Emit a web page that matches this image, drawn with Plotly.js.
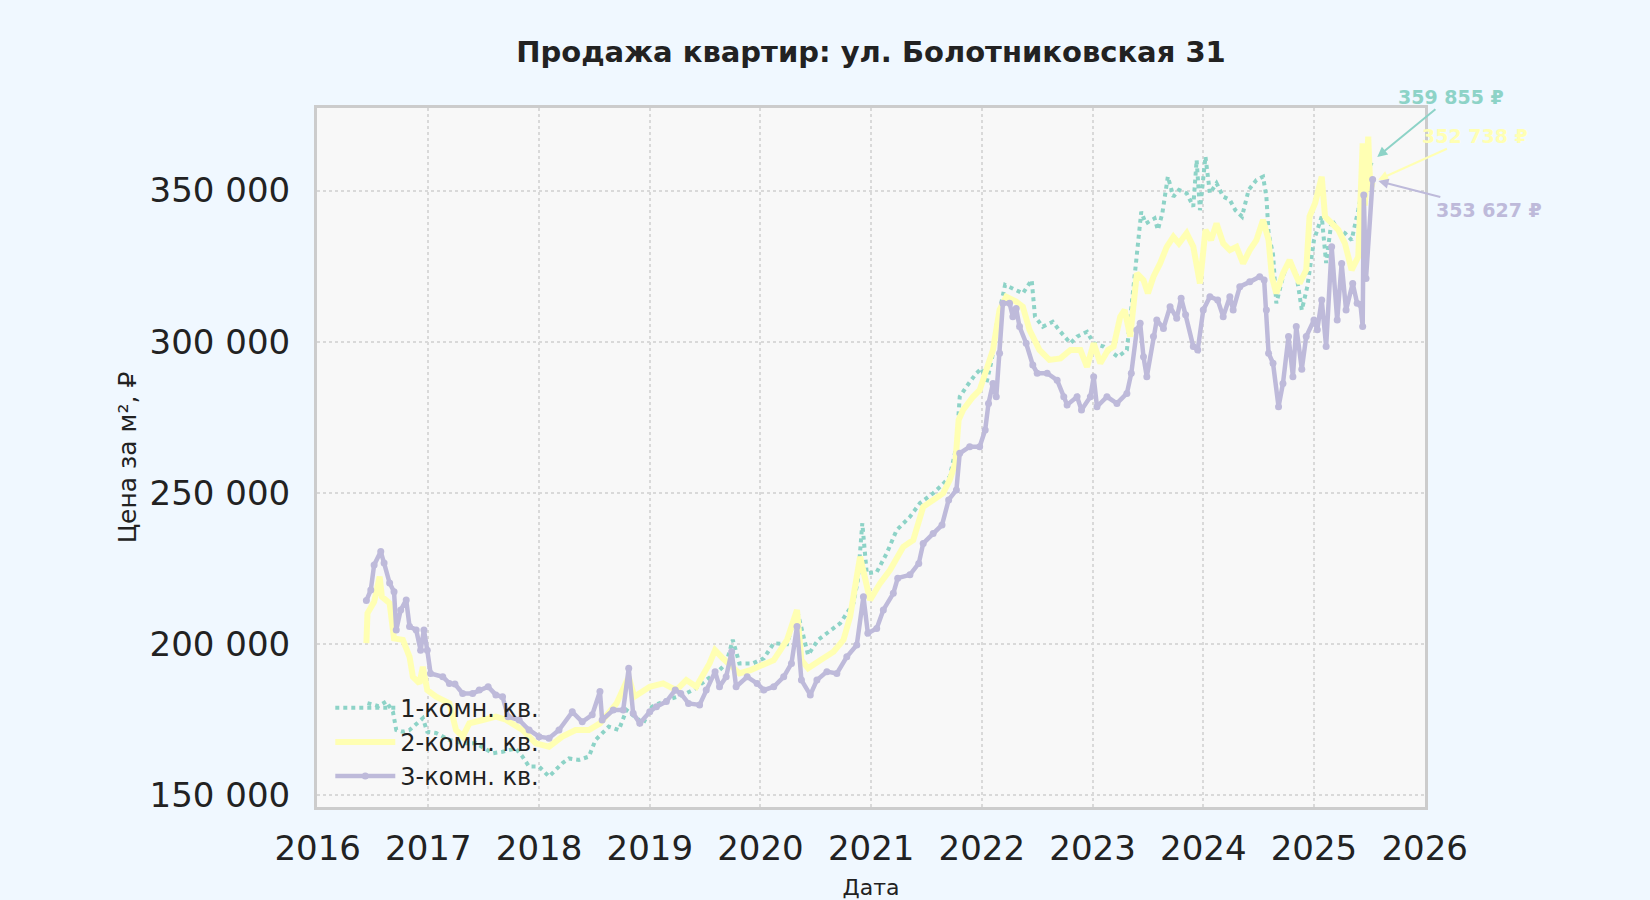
<!DOCTYPE html>
<html>
<head>
<meta charset="utf-8">
<script src="https://cdn.plot.ly/plotly-3.0.1.min.js"></script>
<style>
html,body{margin:0;padding:0;background:#f0f8ff;}
#chart{width:1650px;height:900px;}
</style>
</head>
<body>
<div id="chart"></div>
<script>
// ---- data (decimal years, price per m²) ----
const seriesNames = ["1-комн. кв.", "2-комн. кв.", "3-комн. кв."];

const dates1 = [2016.45,2016.55,2016.62,2016.68,2016.71,2016.77,2016.83,2016.95,2016.99,2017.07,2017.19,2017.31,2017.43,2017.58,2017.67,2017.79,2017.85,2017.91,2018.00,2018.09,2018.21,2018.27,2018.36,2018.45,2018.51,2018.63,2018.72,2018.79,2018.94,2019.02,2019.15,2019.30,2019.39,2019.51,2019.63,2019.69,2019.75,2019.81,2019.93,2020.03,2020.12,2020.24,2020.33,2020.43,2020.52,2020.60,2020.72,2020.84,2020.88,2020.92,2020.96,2021.05,2021.14,2021.23,2021.35,2021.44,2021.56,2021.64,2021.71,2021.77,2021.80,2021.86,2021.95,2022.00,2022.04,2022.09,2022.13,2022.21,2022.28,2022.37,2022.45,2022.48,2022.55,2022.64,2022.71,2022.80,2022.86,2022.95,2023.01,2023.10,2023.23,2023.31,2023.37,2023.41,2023.44,2023.48,2023.56,2023.59,2023.63,2023.68,2023.73,2023.78,2023.85,2023.91,2023.94,2023.97,2024.02,2024.06,2024.12,2024.18,2024.24,2024.29,2024.35,2024.41,2024.48,2024.54,2024.57,2024.59,2024.63,2024.66,2024.72,2024.77,2024.84,2024.89,2024.94,2025.00,2025.07,2025.11,2025.16,2025.22,2025.28,2025.34,2025.40,2025.46,2025.53];
const price1 = [180500,179500,181000,177600,171600,171000,171600,175500,171000,170600,168300,167200,167200,163900,164400,165500,162800,159500,159500,156200,160600,162200,161700,162800,168300,172700,171600,178200,173800,179300,181500,183200,184800,188100,191400,193600,201400,193600,193600,195300,200300,200000,211300,196400,201400,203600,206900,213500,221200,240000,223400,223800,230000,237700,242100,246600,249900,252600,255400,265300,281800,285100,289600,291200,286200,294000,305000,318800,317700,316000,320400,308300,305000,306600,303300,299500,301700,303300,299500,298400,295000,297300,318200,333600,343000,339100,340800,337000,342400,354600,348000,350200,349100,344700,360100,343500,361200,349100,352400,348000,346900,343500,341400,350200,353500,354600,348000,335900,328900,312700,321500,327000,322600,310500,318200,333600,341400,326000,340300,337000,335900,333600,343500,355000,359855];

const dates2 = [2016.44,2016.45,2016.51,2016.56,2016.58,2016.65,2016.69,2016.77,2016.83,2016.86,2016.92,2016.95,2016.99,2017.07,2017.19,2017.25,2017.31,2017.37,2017.49,2017.61,2017.70,2017.85,2017.97,2018.09,2018.21,2018.33,2018.45,2018.55,2018.70,2018.81,2018.86,2019.00,2019.12,2019.24,2019.33,2019.42,2019.54,2019.59,2019.66,2019.74,2019.81,2019.91,2019.99,2020.12,2020.24,2020.33,2020.37,2020.43,2020.54,2020.66,2020.75,2020.81,2020.90,2020.99,2021.08,2021.17,2021.29,2021.38,2021.47,2021.56,2021.65,2021.71,2021.76,2021.79,2021.83,2021.92,2021.98,2022.04,2022.10,2022.16,2022.22,2022.31,2022.37,2022.43,2022.52,2022.61,2022.71,2022.80,2022.89,2022.95,2023.01,2023.07,2023.14,2023.19,2023.25,2023.29,2023.34,2023.40,2023.46,2023.50,2023.55,2023.61,2023.67,2023.73,2023.78,2023.85,2023.91,2023.97,2024.02,2024.07,2024.12,2024.18,2024.24,2024.30,2024.36,2024.42,2024.48,2024.54,2024.59,2024.62,2024.66,2024.72,2024.78,2024.83,2024.87,2024.93,2024.96,2025.01,2025.07,2025.10,2025.16,2025.22,2025.28,2025.34,2025.40,2025.44,2025.46,2025.49,2025.51,2025.53];
const price2 = [200300,210200,214000,222300,215700,213500,201900,201400,195800,189200,187000,192500,184800,182600,180400,171600,169400,173800,174900,176000,175000,171600,167200,166100,169400,171600,171600,173800,180400,189200,182600,185900,187000,184800,188100,185900,193600,198000,195300,192500,190300,191400,192500,194700,201400,211300,194700,192000,194700,197500,201400,209100,228900,214600,220100,224500,232200,234400,245400,247700,249900,254300,259800,274100,277400,281800,284000,290600,297300,310500,314900,313300,311600,303900,297300,294000,294500,297300,297300,291700,299500,292900,297300,298400,308300,310500,301700,322600,320400,316000,321500,325900,331400,334700,332500,335900,331400,319300,337000,333600,339100,332500,330300,331400,325900,330300,333600,340300,333600,321500,316000,322600,327000,322600,319300,323700,341400,345800,354600,341400,339100,337000,332500,323700,328100,365600,345000,367800,350000,352738];

const dates3 = [2016.44,2016.48,2016.51,2016.57,2016.60,2016.65,2016.69,2016.71,2016.75,2016.80,2016.83,2016.89,2016.93,2016.96,2016.99,2017.02,2017.13,2017.19,2017.24,2017.31,2017.40,2017.46,2017.54,2017.61,2017.67,2017.72,2017.82,2017.91,2018.00,2018.09,2018.18,2018.30,2018.39,2018.48,2018.55,2018.57,2018.67,2018.76,2018.81,2018.85,2018.91,2019.00,2019.06,2019.15,2019.23,2019.28,2019.35,2019.45,2019.51,2019.59,2019.63,2019.69,2019.74,2019.78,2019.88,2019.97,2020.03,2020.12,2020.21,2020.28,2020.33,2020.37,2020.45,2020.51,2020.60,2020.69,2020.78,2020.87,2020.93,2020.97,2021.05,2021.11,2021.20,2021.24,2021.35,2021.43,2021.47,2021.56,2021.64,2021.70,2021.77,2021.80,2021.89,2021.98,2022.03,2022.06,2022.10,2022.13,2022.16,2022.19,2022.25,2022.28,2022.31,2022.34,2022.40,2022.46,2022.50,2022.59,2022.68,2022.74,2022.77,2022.86,2022.90,2022.98,2023.01,2023.04,2023.13,2023.22,2023.31,2023.35,2023.40,2023.43,2023.46,2023.49,2023.55,2023.58,2023.64,2023.70,2023.76,2023.80,2023.84,2023.91,2023.95,2024.00,2024.06,2024.13,2024.18,2024.24,2024.27,2024.33,2024.42,2024.51,2024.55,2024.57,2024.59,2024.63,2024.68,2024.72,2024.77,2024.81,2024.84,2024.89,2024.93,2025.00,2025.03,2025.07,2025.11,2025.16,2025.21,2025.25,2025.29,2025.35,2025.39,2025.42,2025.44,2025.45,2025.47,2025.53];
const price3 = [214400,217900,226200,230600,226800,220200,217300,204700,211300,214600,205800,204700,198000,204700,198000,190300,189200,187000,186800,183700,183700,184800,185900,183200,182600,176000,174900,171600,169400,168900,171600,177600,174300,176600,184300,174900,178200,178200,192000,177100,173800,177600,179300,181000,184800,183700,180400,179900,184800,190900,185900,189200,197500,185900,189200,187000,184800,185900,189200,193600,205800,188100,183200,188100,190900,190300,195800,199700,215700,203600,205200,211300,216800,221800,222900,226700,233300,236600,239400,247700,251000,263100,265300,265300,270800,279600,286200,281800,296200,312700,312700,308300,311000,305000,299500,292300,289600,289600,287300,281800,279100,281800,277400,281800,288400,278500,281800,279600,282900,289600,303900,306100,295000,288400,301700,307200,304400,311600,307800,314400,308900,298400,297300,310500,314900,313800,308300,314900,310500,318200,319800,321500,320400,310500,296200,292900,278500,286200,301700,288400,305000,290900,301700,307200,304000,313800,298400,331400,307200,325900,310500,319300,312700,312300,305000,348500,320900,353627];

const yearTicks = [2016,2017,2018,2019,2020,2021,2022,2023,2024,2025,2026];
const priceTicks = [150000,200000,250000,300000,350000];
const lastLabels = ["359 855 ₽", "352 738 ₽", "353 627 ₽"];

const colors = ["#8dd3c7", "#ffffb3", "#bebada"];
const FONT = "DejaVu Sans, sans-serif";

const traces = [
  {x: dates1, y: price1, name: seriesNames[0], type: "scatter", mode: "lines",
   line: {color: colors[0], width: 4, dash: "dot"}},
  {x: dates2, y: price2, name: seriesNames[1], type: "scatter", mode: "lines",
   line: {color: colors[1], width: 6}},
  {x: dates3, y: price3, name: seriesNames[2], type: "scatter", mode: "lines+markers",
   line: {color: colors[2], width: 4.5}, marker: {color: colors[2], size: 7}}
];

const lastOf = a => a[a.length - 1];
const annotations = [
  {x: lastOf(dates1), y: lastOf(price1), text: lastLabels[0], ax: 78, ay: -64},
  {x: lastOf(dates2), y: lastOf(price2), text: lastLabels[1], ax: 102, ay: -46},
  {x: lastOf(dates3), y: lastOf(price3), text: lastLabels[2], ax: 116, ay: 30}
].map((a, i) => Object.assign(a, {
  xref: "x", yref: "y", showarrow: true, arrowhead: 2, arrowsize: 1, arrowwidth: 2,
  arrowcolor: colors[i], standoff: 6,
  font: {family: FONT, size: 19, color: colors[i], weight: "bold"}
}));

const layout = {
  width: 1650, height: 900,
  paper_bgcolor: "#f0f8ff",
  plot_bgcolor: "#f8f8f8",
  separators: ". ",
  margin: {l: 317, r: 225, t: 108, b: 93, pad: 0},
  font: {family: FONT, color: "#222222"},
  title: {text: "<b>Продажа квартир: ул. Болотниковская 31</b>",
          font: {family: FONT, size: 29, color: "#222222"},
          x: 0.5, xref: "paper", xanchor: "center", y: 1 - 52 / 900, yanchor: "middle"},
  xaxis: {
    range: [2015.994, 2026.003],
    tickvals: yearTicks, tickformat: "d",
    tickfont: {size: 34, color: "#222222"},
    ticks: "", ticklabelstandoff: 9,
    showgrid: true, gridcolor: "#d9d9d9", gridwidth: 2, griddash: "dot",
    zeroline: false,
    showline: true, mirror: true, linecolor: "#cccccc", linewidth: 3,
    title: {text: "Дата", font: {size: 22, color: "#222222"}, standoff: 14}
  },
  yaxis: {
    range: [146130, 377300],
    tickvals: priceTicks, tickformat: ",d",
    tickfont: {size: 34, color: "#222222"},
    ticks: "", ticklabelstandoff: 17,
    showgrid: true, gridcolor: "#d9d9d9", gridwidth: 2, griddash: "dot",
    zeroline: false,
    showline: true, mirror: true, linecolor: "#cccccc", linewidth: 3,
    title: {text: "Цена за м², ₽", font: {size: 25, color: "#222222"}, standoff: 6}
  },
  legend: {
    x: 0.012, y: 0.012, xanchor: "left", yanchor: "bottom",
    bgcolor: "rgba(0,0,0,0)", borderwidth: 0,
    font: {family: FONT, size: 24, color: "#222222"},
    itemwidth: 60, tracegroupgap: 0
  },
  showlegend: true,
  annotations: annotations
};

Plotly.newPlot("chart", traces, layout, {displayModeBar: false, staticPlot: true});
</script>
</body>
</html>
